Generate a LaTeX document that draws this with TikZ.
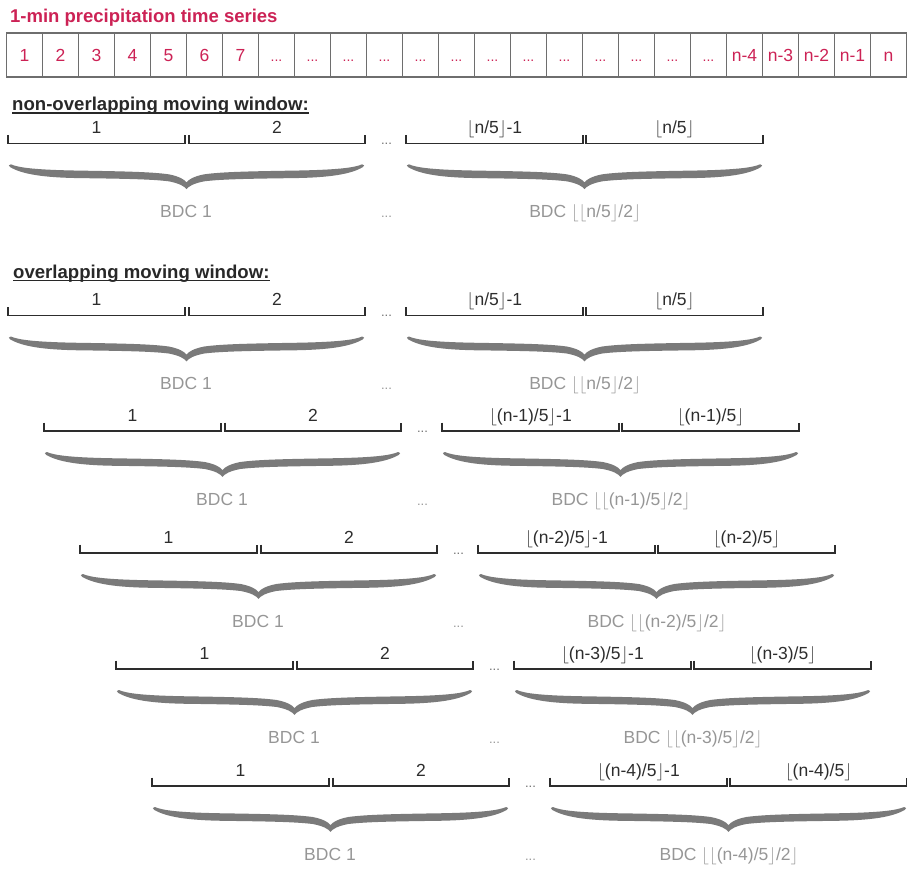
\documentclass[tikz,border=0pt]{standalone}
\usepackage{fontspec}
\setmainfont{Liberation Sans}
\definecolor{series}{RGB}{204,34,85}
\definecolor{cellgray}{RGB}{110,110,110}
\definecolor{barink}{RGB}{45,45,45}
\definecolor{headink}{RGB}{40,40,40}
\definecolor{bracegray}{RGB}{122,122,122}
\definecolor{bdcgray}{RGB}{150,150,150}
\definecolor{dotgray}{RGB}{110,110,110}
% floor brackets around an expression
\newcommand{\flr}[1]{$\lfloor$#1$\rfloor$}

\tikzset{
  cell/.style={draw=cellgray, line width=1.2pt, minimum width=36pt, minimum height=44pt,
    inner sep=0pt, text height=12.7pt, text depth=0pt, text=series,
    font=\fontsize{17.5}{20}\selectfont},
  celldots/.style={cell, font=\fontsize{14}{16}\selectfont},
  bar/.style={draw=barink, line width=1.5pt},
  winlabel/.style={anchor=base, inner sep=0pt, text=barink, font=\fontsize{17.5}{20}\selectfont},
  bdclabel/.style={anchor=base, inner sep=0pt, text=bdcgray, font=\fontsize{17.5}{20}\selectfont},
  bardots/.style={anchor=base, inner sep=0pt, text=dotgray, font=\fontsize{13}{15}\selectfont},
  bdcdots/.style={anchor=base, inner sep=0pt, text=bdcgray, font=\fontsize{13}{15}\selectfont},
  bracefill/.style={fill=bracegray},
  heading/.style={anchor=base west, inner sep=0pt, text=headink,
    font=\bfseries\fontsize{18.6}{21}\selectfont},
  title/.style={anchor=base west, inner sep=0pt, text=series,
    font=\bfseries\fontsize{18.5}{21}\selectfont},
}

% a curly brace 100 units wide, opening upwards, pointing down at its middle
\newcommand{\bracepath}{%
  (0.8,0) .. controls (3,3.5) and (8,5.6) .. (20,6.3)
  .. controls (32,7) and (40,7.5) .. (45,10)
  .. controls (48,12) and (49.5,15.5) .. (50,18)
  .. controls (50.5,15.5) and (52,12) .. (55,10)
  .. controls (60,7.5) and (68,7) .. (80,6.3)
  .. controls (92,5.6) and (97,3.5) .. (99.2,0)
  .. controls (99.9,0.5) and (99.9,1.5) .. (99.4,2.8)
  .. controls (96,10) and (90,13.3) .. (80,13.8)
  .. controls (68,14.4) and (60,14.8) .. (55,17)
  .. controls (52,19) and (50.6,22) .. (50,24.8)
  .. controls (49.4,22) and (48,19) .. (45,17)
  .. controls (40,14.8) and (32,14.4) .. (20,13.8)
  .. controls (10,13.3) and (4,10) .. (0.6,2.8)
  .. controls (0.1,1.5) and (0.1,0.5) .. (0.8,0) -- cycle}

% one row of four windows with their two BDC braces
% #1 name prefix, #2 left x, #3 bar y, #4 #5 labels of the last two windows, #6 last BDC label
\newcommand{\windowrow}[6]{%
  \coordinate (#1a0) at (#2,#3);
  \coordinate (#1a1) at (#2+177,#3);
  \coordinate (#1b0) at (#2+181,#3);
  \coordinate (#1b1) at (#2+357,#3);
  \coordinate (#1c0) at (#2+398,#3);
  \coordinate (#1c1) at (#2+575,#3);
  \coordinate (#1d0) at (#2+578,#3);
  \coordinate (#1d1) at (#2+755,#3);
  \foreach \s in {a,b,c,d}{
    \draw[bar] (#1\s0) ++(0,-8.5) -- (#1\s0) -- (#1\s1) -- ++(0,-8.5);
  }
  \node[winlabel] (#1la) at (#2+88.5,#3-10) {1};
  \node[winlabel] (#1lb) at (#2+269,#3-10) {2};
  \node[winlabel] (#1lc) at (#2+486.5,#3-10) {#4};
  \node[winlabel] (#1ld) at (#2+666.5,#3-10) {#5};
  \node[bardots] (#1gap) at (#2+378.5,#3+1) {...};
  \fill[bracefill, shift={(#2,#3+21)}, xscale=3.57] \bracepath;
  \fill[bracefill, shift={(#2+398,#3+21)}, xscale=3.57] \bracepath;
  \node[bdclabel] (#1bdcl) at (#2+178,#3+74) {BDC 1};
  \node[bdcdots] (#1bdcgap) at (#2+378.5,#3+74) {...};
  \node[bdclabel] (#1bdcr) at (#2+577,#3+74) {#6};
}

\begin{document}
\begin{tikzpicture}[x=1pt,y=-1pt]
\useasboundingbox (0,0) rectangle (907,868);

% the time series
\node[title] (series) at (10,22.5) {1-min precipitation time series};
\foreach \i/\t in {1/1,2/2,3/3,4/4,5/5,6/6,7/7}{
  \node[cell] (c\i) at (6.5+36*\i-18,55) {\t};
}
\foreach \i in {8,...,20}{
  \node[celldots] (c\i) at (6.5+36*\i-18,55) {...};
}
\foreach \i/\t in {21/n-4,22/n-3,23/n-2,24/n-1,25/n}{
  \node[cell] (c\i) at (6.5+36*\i-18,55) {\t};
}

% non-overlapping windows
\node[heading] (hnon) at (12,110.5) {non-overlapping moving window:};
\draw[headink, line width=1.3pt] ([yshift=-2.5pt]hnon.base west) -- ([yshift=-2.5pt]hnon.base east);
\windowrow{w}{8}{143.3}{\flr{n/5}-1}{\flr{n/5}}{BDC \flr{\flr{n/5}/2}}

% overlapping windows
\node[heading] (hover) at (13,278) {overlapping moving window:};
\draw[headink, line width=1.3pt] ([yshift=-2.5pt]hover.base west) -- ([yshift=-2.5pt]hover.base east);
\windowrow{o0}{8}{315.5}{\flr{n/5}-1}{\flr{n/5}}{BDC \flr{\flr{n/5}/2}}
\windowrow{o1}{44}{431}{\flr{(n-1)/5}-1}{\flr{(n-1)/5}}{BDC \flr{\flr{(n-1)/5}/2}}
\windowrow{o2}{80}{553}{\flr{(n-2)/5}-1}{\flr{(n-2)/5}}{BDC \flr{\flr{(n-2)/5}/2}}
\windowrow{o3}{116}{669}{\flr{(n-3)/5}-1}{\flr{(n-3)/5}}{BDC \flr{\flr{(n-3)/5}/2}}
\windowrow{o4}{152}{786}{\flr{(n-4)/5}-1}{\flr{(n-4)/5}}{BDC \flr{\flr{(n-4)/5}/2}}
\end{tikzpicture}
\end{document}
